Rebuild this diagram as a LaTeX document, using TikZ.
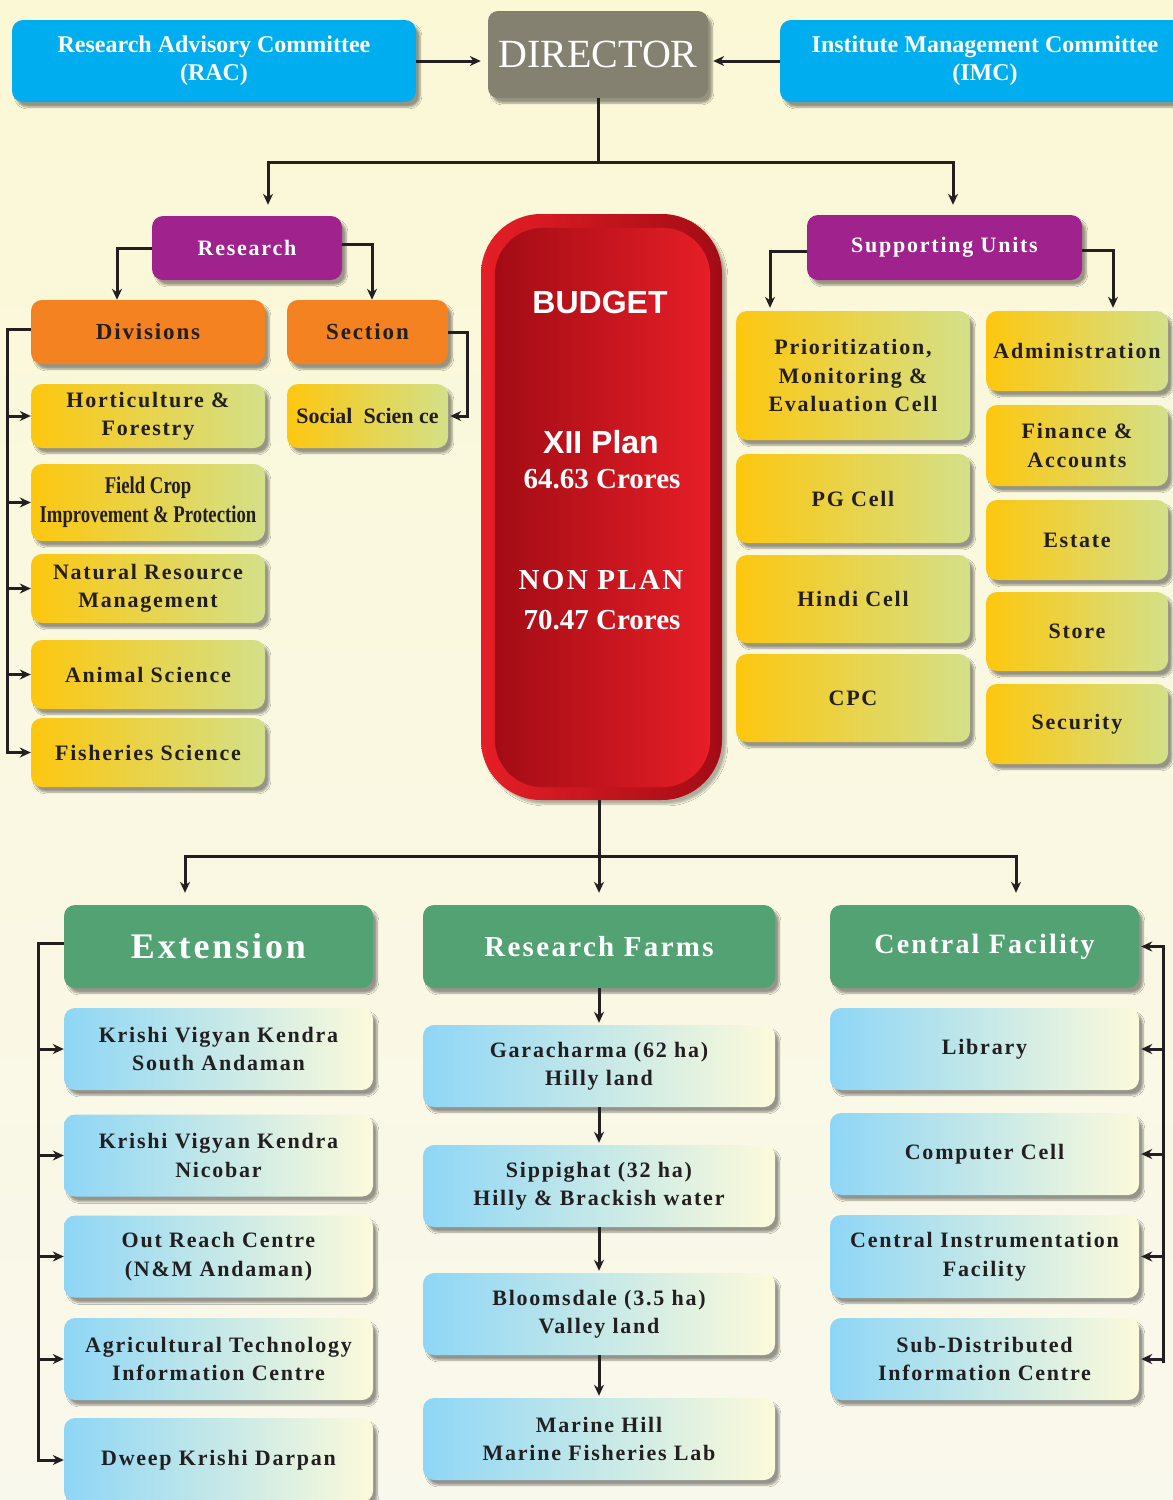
\documentclass[tikz,border=0pt]{standalone}
\usepackage{fontspec}
\setmainfont{Liberation Serif}
\newfontfamily\boxfont[LetterSpace=8]{Liberation Serif}
\newfontfamily\narrowfont[FakeStretch=0.78]{Liberation Serif}
\newfontfamily\budfont{Liberation Sans}
\usetikzlibrary{arrows.meta,shadows.blur,positioning}

\definecolor{bgtop}{HTML}{FBF8D6}
\definecolor{bgbot}{HTML}{F9F8EC}
\definecolor{racblue}{HTML}{00AEEF}
\definecolor{dirgrey}{HTML}{858171}
\definecolor{plum}{HTML}{A0228D}
\definecolor{orng}{HTML}{F48221}
\definecolor{ylwL}{HTML}{FDC70F}
\definecolor{ylwR}{HTML}{D3E089}
\definecolor{grn}{HTML}{53A274}
\definecolor{bluL}{HTML}{8ED6F6}
\definecolor{bluR}{HTML}{FCFADA}
\definecolor{budL}{HTML}{E61E27}
\definecolor{budR}{HTML}{A30C15}
\definecolor{txtdark}{HTML}{231F20}
\definecolor{lnk}{HTML}{231F20}

\begin{document}
\begin{tikzpicture}[x=1pt,y=-1pt,
    >={Stealth[length=11pt,width=10pt]},
    box/.style={rounded corners=11pt, align=center, inner sep=2pt, text=txtdark,
      blur shadow={shadow xshift=4pt,shadow yshift=-5pt,shadow blur steps=6,shadow opacity=40},
      font=\boxfont\bfseries\fontsize{22}{28.5}\selectfont},
    topbox/.style={box, fill=racblue, text=white, minimum height=82pt,
      font=\bfseries\fontsize{24}{28}\selectfont},
    headbox/.style={box, fill=plum, text=white, minimum height=64pt},
    orbox/.style={box, fill=orng, minimum height=64pt, font=\boxfont\bfseries\fontsize{23}{28}\selectfont},
    ybox/.style={box, left color=ylwL, right color=ylwR},
    grbox/.style={box, fill=grn, text=white, minimum height=83pt,
      font=\boxfont\bfseries\fontsize{29}{34}\selectfont},
    bbox/.style={box, left color=bluL, right color=bluR, minimum height=82pt},
    budtext/.style={text=white, font=\bfseries\fontsize{29}{32}\selectfont},
    conn/.style={line width=3pt, draw=lnk}]

    \useasboundingbox (0,0) rectangle (1173,1500);
    \fill[top color=bgtop, bottom color=bgbot] (0,0) rectangle (1173,1500);

    % top row
    \node[topbox, minimum width=404pt] (rac) at (214,61) {Research Advisory Committee\\(RAC)};
    \node[box, fill=dirgrey, text=white, rounded corners=10pt, minimum width=220pt, minimum height=87pt,
      font=\fontsize{40}{40}\selectfont] (dir) at (598,54.5) {DIRECTOR};
    \node[topbox, minimum width=410pt] (imc) at (985,61) {Institute Management Committee\\(IMC)};

    \draw[conn,->,shorten >=7pt] (rac.east) -- (rac.east -| dir.west);
    \draw[conn,->,shorten >=5pt] (imc.west) -- (imc.west -| dir.east);

    % research and supporting units
    \node[headbox, minimum width=190pt] (res) at (247,248) {Research};
    \node[headbox, minimum width=275pt, minimum height=65pt] (sup) at (944.5,247.5) {Supporting Units};

    \draw[conn,->,shorten >=11pt] (dir.south) -- (dir.south |- 0,162) -| ([xshift=21pt]res.north);
    \draw[conn,->,shorten >=10pt] (dir.south |- 0,162) -| ([xshift=8.5pt]sup.north);

    \node[orbox, minimum width=234pt] (div) at (148,332) {Divisions};
    \node[orbox, minimum width=161pt] (sec) at (367.5,332) {Section};
    \node[ybox, minimum width=161pt, minimum height=64pt,
      font=\bfseries\fontsize{22}{28}\selectfont] (soc) at (367.5,416) {Social \ Scien ce};

    \node[ybox, minimum width=234pt, minimum height=64pt] (hort) at (148,416) {Horticulture \&\\Forestry};
    \node[ybox, minimum width=234pt, minimum height=77pt,
      font=\narrowfont\bfseries\fontsize{24}{29}\selectfont] (fcip) at (148,502.5) {Field Crop\\Improvement \& Protection};
    \node[ybox, minimum width=234pt, minimum height=69pt] (nrm) at (148,588.5) {Natural Resource\\Management};
    \node[ybox, minimum width=234pt, minimum height=69pt] (anim) at (148,674.5) {Animal Science};
    \node[ybox, minimum width=234pt, minimum height=69pt] (fish) at (148,752.5) {Fisheries Science};

    \draw[conn,->] (res.west) -| ([xshift=-31pt]div.north);
    \draw[conn,->] ([yshift=4pt]res.east) -| ([xshift=4.5pt]sec.north);
    \draw[conn,->,shorten >=2pt] (sec.east) -- ++(19,0) |- (soc.east);
    \foreach \n in {hort,fcip,nrm,anim,fish}
      \draw[conn,->] ([yshift=3pt]div.west) -- ++(-23,0) |- (\n.west);

    % supporting units
    \node[ybox, minimum width=234pt, minimum height=129pt] (pme) at (853,375.5) {Prioritization,\\Monitoring \&\\Evaluation Cell};
    \node[ybox, minimum width=234pt, minimum height=89pt] (pg) at (853,498.5) {PG Cell};
    \node[ybox, minimum width=234pt, minimum height=88pt] (hin) at (853,599) {Hindi Cell};
    \node[ybox, minimum width=234pt, minimum height=88pt] (cpc) at (853,698) {CPC};

    \node[ybox, minimum width=182pt, minimum height=80pt] (adm) at (1077,351) {Administration};
    \node[ybox, minimum width=182pt, minimum height=81pt] (fin) at (1077,445.5) {Finance \&\\Accounts};
    \node[ybox, minimum width=182pt, minimum height=80pt] (est) at (1077,540) {Estate};
    \node[ybox, minimum width=182pt, minimum height=79pt] (sto) at (1077,631.5) {Store};
    \node[ybox, minimum width=182pt, minimum height=80pt] (secu) at (1077,724) {Security};

    \draw[conn,->,shorten >=3pt] ([yshift=-3.5pt]sup.west) -| ([xshift=-83pt]pme.north);
    \draw[conn,->,shorten >=3pt] ([yshift=-2.5pt]sup.east) -| ([xshift=36pt]adm.north);

    % budget
    \node[rounded corners=60pt, minimum width=241pt, minimum height=586pt, left color=budL, right color=budR,
      blur shadow={shadow xshift=4pt,shadow yshift=-4pt,shadow blur steps=6,shadow opacity=30}] (bud) at (601.5,507) {};
    \path[left color=budR, right color=budL, rounded corners=48pt]
      ([shift={(14,14)}]bud.north west) rectangle ([shift={(-12,-13)}]bud.south east);
    \node[budtext, font=\budfont\bfseries\fontsize{32}{32}\selectfont] (bgt) at (600,302) {BUDGET};
    \node[budtext, font=\budfont\bfseries\fontsize{32}{32}\selectfont] (xii) at (601,442) {XII Plan};
    \node[budtext] (xiiv) at (602,479) {64.63 Crores};
    \node[budtext, font=\boxfont\bfseries\fontsize{29}{32}\selectfont] (np) at (601,580) {NON PLAN};
    \node[budtext] (npv) at (602,620) {70.47 Crores};

    % lower row
    \node[grbox, minimum width=309pt, font=\boxfont\bfseries\fontsize{36}{40}\selectfont] (ext) at (218.5,946.5) {Extension};
    \node[grbox, minimum width=352pt] (rf) at (599,946.5) {Research Farms};
    \node[grbox, minimum width=309pt, font=\boxfont\bfseries\fontsize{28}{34}\selectfont] (cf) at (984.5,946.5) {Central Facility};

    \coordinate (lowbus) at (rf.north |- 0,856);
    \draw[conn] (bud.south -| rf.north) -- (lowbus);
    \draw[conn,->,shorten >=12pt] (lowbus) -| ([xshift=-33.5pt]ext.north);
    \draw[conn,->,shorten >=12pt] (lowbus) -- (rf.north);
    \draw[conn,->,shorten >=12pt] (lowbus) -| ([xshift=31.5pt]cf.north);

    \node[bbox, minimum width=309pt] (kvks) at (218.5,1049) {Krishi Vigyan Kendra\\South Andaman};
    \node[bbox, minimum width=309pt] (kvkn) at (218.5,1155.5) {Krishi Vigyan Kendra\\Nicobar};
    \node[bbox, minimum width=309pt] (orc) at (218.5,1256.5) {Out Reach Centre\\(N\&M Andaman)};
    \node[bbox, minimum width=309pt] (atic) at (218.5,1359) {Agricultural Technology\\Information Centre};
    \node[bbox, minimum width=309pt, minimum height=84pt] (dkd) at (218.5,1460) {Dweep Krishi Darpan};
    \foreach \n in {kvks,kvkn,orc,atic,dkd}
      \draw[conn,->] ([yshift=3pt]ext.west) -- ++(-25,0) |- (\n.west);

    \node[bbox, minimum width=352pt] (gar) at (599,1066) {Garacharma (62 ha)\\Hilly land};
    \node[bbox, minimum width=352pt] (sip) at (599,1186) {Sippighat (32 ha)\\Hilly \& Brackish water};
    \node[bbox, minimum width=352pt] (blo) at (599,1314) {Bloomsdale (3.5 ha)\\Valley land};
    \node[bbox, minimum width=352pt] (mar) at (599,1439) {Marine Hill\\Marine Fisheries Lab};
    \draw[conn,->,shorten >=2pt] (rf) -- (gar);
    \draw[conn,->,shorten >=2pt] (gar) -- (sip);
    \draw[conn,->,shorten >=2pt] (sip) -- (blo);
    \draw[conn,->,shorten >=2pt] (blo) -- (mar);

    \node[bbox, minimum width=309pt] (lib) at (984.5,1049) {Library};
    \node[bbox, minimum width=309pt] (comp) at (984.5,1154) {Computer Cell};
    \node[bbox, minimum width=309pt, minimum height=83pt] (cif) at (984.5,1256.5) {Central Instrumentation\\Facility};
    \node[bbox, minimum width=309pt] (sdic) at (984.5,1359) {Sub-Distributed\\Information Centre};
    \foreach \n in {cf,lib,comp,cif,sdic}
      \draw[conn,->,shorten >=2pt] (sdic.east) ++(24,4) |- (\n.east);

\end{tikzpicture}
\end{document}
